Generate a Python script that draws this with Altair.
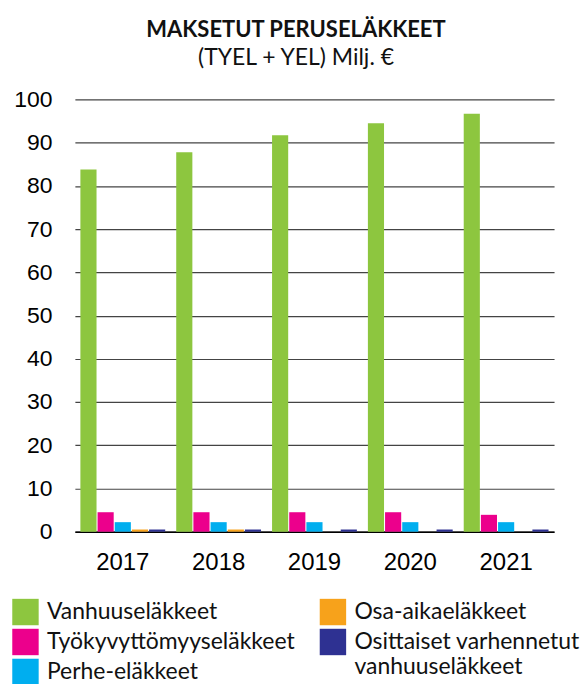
import altair as alt
import pandas as pd

years = ["2017", "2018", "2019", "2020", "2021"]
series = ["Vanhuuseläkkeet", "Työkyvyttömyyseläkkeet", "Perhe-eläkkeet",
          "Osa-aikaeläkkeet", "Osittaiset varhennetut vanhuuseläkkeet"]
colors = ["#8DC63F", "#EC008C", "#00AEEF", "#F7A21B", "#2E3192"]
values = {
    "Vanhuuseläkkeet": [83.8, 87.8, 91.7, 94.5, 96.7],
    "Työkyvyttömyyseläkkeet": [4.5, 4.5, 4.5, 4.5, 3.9],
    "Perhe-eläkkeet": [2.2, 2.2, 2.2, 2.2, 2.2],
    "Osa-aikaeläkkeet": [0.5, 0.5, 0.0, 0.0, 0.0],
    "Osittaiset varhennetut vanhuuseläkkeet": [0.5, 0.5, 0.5, 0.5, 0.5],
}

rows = []
for s in series:
    for y, v in zip(years, values[s]):
        rows.append({"year": y, "series": s, "value": v})
df = pd.DataFrame(rows)

groupA = series[:3]
groupB = series[3:]

FONT = "Lato"
AXFONT = "Liberation Sans"

x = alt.X("year:N", title=None, sort=years,
          scale=alt.Scale(paddingInner=0.115, paddingOuter=0.0575),
          axis=alt.Axis(labelAngle=0, labelFont=AXFONT, labelFontSize=24,
                        labelColor="#000", labelPadding=19, ticks=False,
                        domainColor="#000", domainWidth=1.5, grid=False))
xo = alt.XOffset("series:N", sort=series,
                 scale=alt.Scale(domain=series, paddingInner=0.06, paddingOuter=0))
y = alt.Y("value:Q", title=None,
          scale=alt.Scale(domain=[0, 100]),
          axis=alt.Axis(values=list(range(0, 101, 10)), labelFont=AXFONT,
                        labelFontSize=23, labelColor="#000", labelPadding=23,
                        ticks=False, domain=False, grid=True,
                        gridColor="#444", gridWidth=1.2))

legend_common = dict(
    orient="none", title=None, symbolType="square", symbolSize=700,
    symbolStrokeWidth=0, labelFont=FONT, labelFontSize=23, labelColor="#111",
    labelLimit=400, labelOffset=8, rowPadding=3, direction="vertical",
)

barsA = alt.Chart(df).transform_filter(
    alt.FieldOneOfPredicate(field="series", oneOf=groupA)
).mark_bar().encode(
    x=x, xOffset=xo, y=y,
    color=alt.Color("series:N", scale=alt.Scale(domain=groupA, range=colors[:3]),
                    legend=alt.Legend(legendX=-63, legendY=500, **legend_common)),
)

barsB = alt.Chart(df).transform_filter(
    alt.FieldOneOfPredicate(field="series", oneOf=groupB)
).mark_bar().encode(
    x=x, xOffset=xo, y=y,
    color=alt.Color("series:N", scale=alt.Scale(domain=groupB, range=colors[3:]),
                    legend=alt.Legend(
                        legendX=245, legendY=500,
                        labelExpr="datum.label == 'Osittaiset varhennetut vanhuuseläkkeet' ? ['Osittaiset varhennetut', 'vanhuuseläkkeet'] : datum.label",
                        **legend_common)),
)

chart = alt.layer(barsA, barsB).resolve_scale(color="independent").properties(
    width=480, height=433,
    padding={"left": 4, "top": 10, "right": 0, "bottom": 0},
    title=alt.TitleParams(
        text="MAKSETUT PERUSELÄKKEET",
        subtitle="(TYEL + YEL) Milj. €",
        font=FONT, fontSize=22, fontWeight="bold", color="#111",
        subtitleFont=FONT, subtitleFontSize=23, subtitleColor="#111",
        subtitlePadding=6, anchor="middle", frame="bounds", offset=17,
    ),
).configure_view(stroke=None)

chart.save("out.html", embed_options={"renderer": "svg", "actions": False})
